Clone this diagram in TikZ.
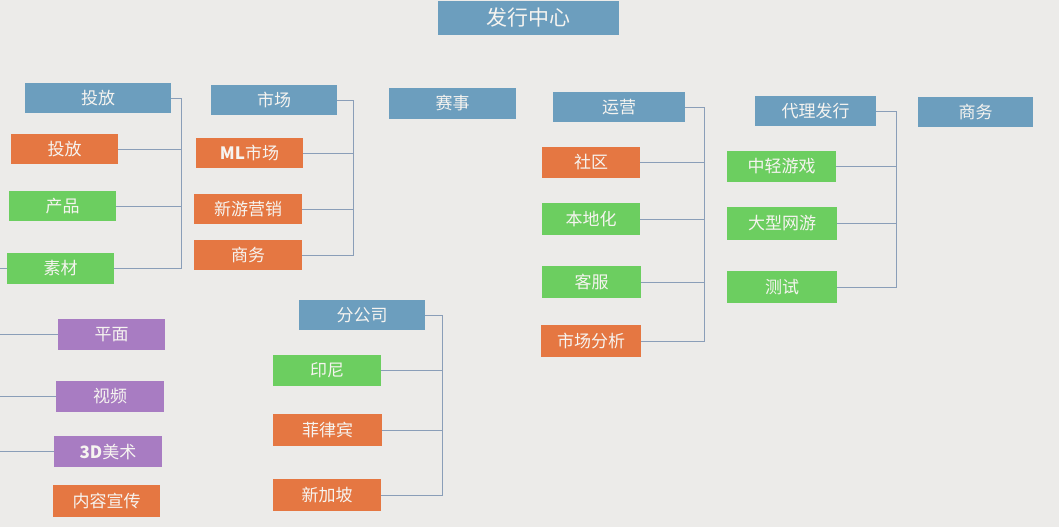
\documentclass[tikz,border=0pt]{standalone}
\usepackage{fontspec}
\setmainfont{Noto Sans CJK SC}
\definecolor{bgc}{RGB}{236,235,233}
\definecolor{bluec}{RGB}{108,158,190}
\definecolor{orangec}{RGB}{229,119,66}
\definecolor{greenc}{RGB}{108,206,96}
\definecolor{purplec}{RGB}{168,124,194}
\definecolor{linec}{RGB}{138,158,184}
\definecolor{txtc}{RGB}{246,244,240}
\tikzset{
  box/.style={rectangle, inner sep=0pt, text=txtc, font=\fontsize{17}{19}\selectfont},
  bbox/.style={box, fill=bluec},
  obox/.style={box, fill=orangec},
  gbox/.style={box, fill=greenc},
  pbox/.style={box, fill=purplec},
  sz/.style 2 args={minimum width=#1pt, minimum height=#2pt},
  link/.style={draw=linec, line width=1pt}
}
\begin{document}
\begin{tikzpicture}[x=1pt,y=-1pt]
\fill[bgc] (0,0) rectangle (1059,527);
\useasboundingbox (0,0) rectangle (1059,527);
% top
\node[bbox, sz={181}{34}, font=\fontsize{21}{23}\selectfont] (top) at (528.5,18) {发行中心};
% headers
\node[bbox, sz={146}{30}] (tf) at (98,98) {投放};
\node[bbox, sz={126}{30}] (sc) at (274,100) {市场};
\node[bbox, sz={127}{31}] (ss) at (452.5,103.5) {赛事};
\node[bbox, sz={132}{30}] (yy) at (619,107) {运营};
\node[bbox, sz={121}{30}] (dl) at (815.5,111) {代理发行};
\node[bbox, sz={115}{30}] (sw) at (975.5,112) {商务};
\node[bbox, sz={126}{30}] (fg) at (362,315) {分公司};
% 投放 group
\node[obox, sz={107}{30}] (tf1) at (64.5,149) {投放};
\node[gbox, sz={107}{30}] (tf2) at (62.5,206) {产品};
\node[gbox, sz={107}{31}] (tf3) at (60.5,268.5) {素材};
\coordinate (tfb) at (181,0);
\draw[link] (tf.east) -- (tf.east -| tfb) |- (tf3.east);
\draw[link] (tf1.east) -- (tf1.east -| tfb);
\draw[link] (tf2.east) -- (tf2.east -| tfb);
% left purple
\node[pbox, sz={107}{31}] (pm) at (111.5,334.5) {平面};
\node[pbox, sz={108}{31}] (sp) at (110,396.5) {视频};
\node[pbox, sz={108}{31}] (md) at (108,451.5) {{\bfseries 3D}美术};
\node[obox, sz={107}{32}] (nr) at (106.5,501) {内容宣传};
\coordinate (lx) at (0,0);
\draw[link] (tf3.west) -- (tf3.west -| lx);
\draw[link] (pm.west) -- (pm.west -| lx);
\draw[link] (sp.west) -- (sp.west -| lx);
\draw[link] (md.west) -- (md.west -| lx);
% 市场 group
\node[obox, sz={107}{30}] (sc1) at (249.5,153) {{\bfseries ML}市场};
\node[obox, sz={108}{30}] (sc2) at (248,209) {新游营销};
\node[obox, sz={108}{30}] (sc3) at (248,255) {商务};
\coordinate (scb) at (353,0);
\draw[link] (sc.east) -- (sc.east -| scb) |- (sc3.east);
\draw[link] (sc1.east) -- (sc1.east -| scb);
\draw[link] (sc2.east) -- (sc2.east -| scb);
% 分公司 group
\node[gbox, sz={108}{31}] (fg1) at (327,370.5) {印尼};
\node[obox, sz={109}{32}] (fg2) at (327.5,430) {菲律宾};
\node[obox, sz={108}{32}] (fg3) at (327,495) {新加坡};
\coordinate (fgb) at (442,0);
\draw[link] (fg.east) -- (fg.east -| fgb) |- (fg3.east);
\draw[link] (fg1.east) -- (fg1.east -| fgb);
\draw[link] (fg2.east) -- (fg2.east -| fgb);
% 运营 group
\node[obox, sz={98}{31}] (yy1) at (591,162.5) {社区};
\node[gbox, sz={98}{32}] (yy2) at (591,219) {本地化};
\node[gbox, sz={99}{32}] (yy3) at (591.5,282) {客服};
\node[obox, sz={100}{32}] (yy4) at (591,341) {市场分析};
\coordinate (yyb) at (704,0);
\draw[link] (yy.east) -- (yy.east -| yyb) |- (yy4.east);
\draw[link] (yy1.east) -- (yy1.east -| yyb);
\draw[link] (yy2.east) -- (yy2.east -| yyb);
\draw[link] (yy3.east) -- (yy3.east -| yyb);
% 代理发行 group
\node[gbox, sz={109}{31}] (dl1) at (781.5,166.5) {中轻游戏};
\node[gbox, sz={110}{33}] (dl2) at (782,223.5) {大型网游};
\node[gbox, sz={110}{32}] (dl3) at (782,287) {测试};
\coordinate (dlb) at (896,0);
\draw[link] (dl.east) -- (dl.east -| dlb) |- (dl3.east);
\draw[link] (dl1.east) -- (dl1.east -| dlb);
\draw[link] (dl2.east) -- (dl2.east -| dlb);
\end{tikzpicture}
\end{document}
